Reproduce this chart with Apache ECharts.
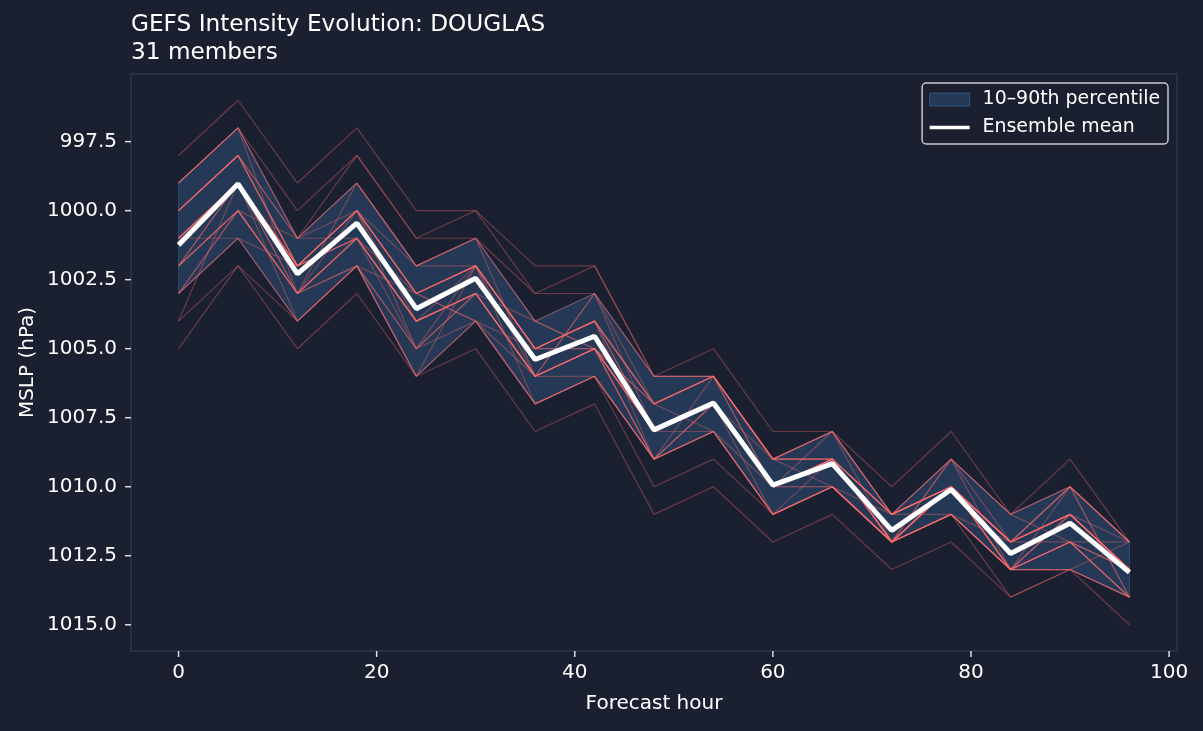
<!DOCTYPE html>
<html>
<head>
<meta charset="utf-8">
<script src="https://cdn.jsdelivr.net/npm/echarts@6/dist/echarts.min.js"></script>
<style>
  html, body { margin: 0; padding: 0; background: #1b2031; }
  #chart { width: 1203px; height: 731px; }
</style>
</head>
<body>
<div id="chart"></div>
<script>
// forecast hours
var hours = [0, 6, 12, 18, 24, 30, 36, 42, 48, 54, 60, 66, 72, 78, 84, 90, 96];

// 31 GEFS members, MSLP (hPa)
var members = [
  [998, 996, 999, 997, 1000, 1000, 1002, 1002, 1006, 1005, 1008, 1008, 1010, 1008, 1011, 1009, 1012],
  [999, 997, 1000, 998, 1001, 1000, 1003, 1002, 1006, 1006, 1009, 1008, 1012, 1009, 1011, 1012, 1012],
  [999, 997, 1001, 998, 1001, 1001, 1003, 1003, 1006, 1006, 1010, 1008, 1011, 1009, 1011, 1010, 1012],
  [999, 997, 1001, 999, 1002, 1001, 1006, 1003, 1006, 1006, 1009, 1008, 1011, 1009, 1011, 1010, 1014],
  [999, 997, 1003, 999, 1002, 1001, 1004, 1005, 1007, 1006, 1009, 1008, 1011, 1009, 1012, 1010, 1012],
  [1000, 998, 1001, 999, 1002, 1001, 1004, 1003, 1007, 1006, 1009, 1008, 1011, 1011, 1012, 1010, 1012],
  [1000, 998, 1001, 1000, 1002, 1002, 1005, 1004, 1009, 1006, 1009, 1009, 1011, 1010, 1012, 1010, 1012],
  [1000, 998, 1002, 1001, 1003, 1002, 1005, 1004, 1007, 1006, 1009, 1009, 1011, 1010, 1013, 1011, 1012],
  [1000, 998, 1002, 1000, 1005, 1002, 1005, 1004, 1007, 1006, 1009, 1009, 1011, 1010, 1012, 1011, 1013],
  [1000, 998, 1002, 1000, 1003, 1002, 1005, 1004, 1007, 1006, 1009, 1010, 1011, 1010, 1012, 1011, 1013],
  [1000, 998, 1002, 1000, 1003, 1004, 1005, 1004, 1007, 1006, 1010, 1009, 1011, 1010, 1012, 1011, 1013],
  [1001, 999, 1002, 1000, 1003, 1002, 1005, 1004, 1008, 1008, 1010, 1009, 1011, 1010, 1012, 1011, 1013],
  [1001, 999, 1002, 1000, 1003, 1002, 1005, 1004, 1008, 1007, 1009, 1009, 1011, 1010, 1012, 1011, 1013],
  [1001, 999, 1002, 1000, 1003, 1002, 1005, 1005, 1008, 1007, 1010, 1009, 1012, 1010, 1012, 1011, 1013],
  [1001, 999, 1002, 1000, 1003, 1002, 1005, 1005, 1008, 1007, 1010, 1009, 1011, 1010, 1012, 1011, 1013],
  [1001, 999, 1002, 1001, 1004, 1002, 1006, 1003, 1008, 1007, 1010, 1009, 1012, 1010, 1012, 1011, 1013],
  [1001, 1001, 1002, 1001, 1004, 1003, 1006, 1005, 1008, 1007, 1010, 1009, 1012, 1010, 1013, 1011, 1013],
  [1001, 999, 1002, 1001, 1004, 1003, 1006, 1005, 1008, 1007, 1010, 1009, 1012, 1010, 1013, 1011, 1013],
  [1002, 999, 1003, 1001, 1004, 1003, 1006, 1005, 1008, 1007, 1010, 1009, 1012, 1010, 1012, 1012, 1013],
  [1002, 999, 1003, 1000, 1004, 1003, 1006, 1005, 1008, 1007, 1010, 1009, 1012, 1010, 1013, 1012, 1013],
  [1002, 1000, 1001, 1001, 1004, 1003, 1006, 1005, 1008, 1007, 1010, 1009, 1012, 1010, 1013, 1012, 1013],
  [1002, 1000, 1003, 1001, 1004, 1003, 1006, 1005, 1009, 1007, 1010, 1010, 1012, 1010, 1013, 1012, 1014],
  [1002, 1000, 1003, 1001, 1004, 1003, 1004, 1005, 1009, 1007, 1010, 1010, 1012, 1011, 1013, 1012, 1014],
  [1002, 1000, 1003, 1001, 1005, 1003, 1006, 1005, 1009, 1008, 1011, 1010, 1012, 1011, 1013, 1010, 1014],
  [1003, 1000, 1003, 1002, 1005, 1003, 1006, 1005, 1007, 1008, 1011, 1010, 1012, 1011, 1013, 1012, 1014],
  [1003, 1000, 1003, 1002, 1003, 1004, 1006, 1006, 1009, 1008, 1011, 1010, 1012, 1011, 1013, 1012, 1014],
  [1003, 1001, 1004, 1002, 1005, 1004, 1007, 1006, 1009, 1008, 1011, 1010, 1012, 1009, 1013, 1013, 1014],
  [1003, 1001, 1004, 1002, 1006, 1004, 1007, 1006, 1009, 1007, 1011, 1009, 1012, 1011, 1013, 1013, 1014],
  [1004, 999, 1004, 1002, 1006, 1002, 1007, 1006, 1009, 1008, 1011, 1010, 1012, 1011, 1013, 1013, 1014],
  [1004, 1002, 1004, 1002, 1006, 1004, 1007, 1006, 1010, 1009, 1011, 1010, 1012, 1011, 1014, 1013, 1012],
  [1005, 1002, 1005, 1003, 1006, 1005, 1008, 1007, 1011, 1010, 1012, 1011, 1013, 1012, 1014, 1013, 1015]
];

// 10th / 90th percentile and ensemble mean
var p10 = [999, 997, 1001, 999, 1002, 1001, 1004, 1003, 1006, 1006, 1009, 1008, 1011, 1009, 1011, 1010, 1012];
var p90 = [1003, 1001, 1004, 1002, 1006, 1004, 1007, 1006, 1009, 1008, 1011, 1010, 1012, 1011, 1013, 1013, 1014];
var ensMean = [1001.24, 999.03, 1002.29, 1000.45, 1003.55, 1002.45, 1005.39, 1004.55, 1007.94, 1006.97,
               1009.94, 1009.16, 1011.58, 1010.10, 1012.42, 1011.32, 1013.10];

var xTicks = [0, 20, 40, 60, 80, 100];
var yTicks = [997.5, 1000, 1002.5, 1005, 1007.5, 1010, 1012.5, 1015];

var FONT = 'DejaVu Sans';
var BG = '#1b2031';
var FRAME = '#30364a';
var TICK = '#dddddd';
var BAND_FILL = 'rgba(74,144,217,0.22)';
var BAND_EDGE = 'rgba(74,144,217,0.3)';

// full plot area runs x -4.8..100.8, y 995.05..1015.95 (matplotlib margins)
var X_MIN = -4.8, X_MAX = 100.8, Y_MIN = 995.05, Y_MAX = 1015.95;
// the data grid spans x 0..100 and y 997.5..1015 so the labels fall on round values
var FRAME_L = 131, FRAME_R = 1177, FRAME_T = 74, FRAME_B = 651;
var TICK_LEN = 6;
var pxX = (FRAME_R - FRAME_L) / (X_MAX - X_MIN);
var pxY = (FRAME_B - FRAME_T) / (Y_MAX - Y_MIN);
var dataL = FRAME_L + (0 - X_MIN) * pxX;
var dataR = FRAME_L + (100 - X_MIN) * pxX;
var dataT = FRAME_T + (997.5 - Y_MIN) * pxY;
var dataB = FRAME_T + (1015 - Y_MIN) * pxY;

function pairs(arr) {
  return hours.map(function (h, i) { return [h, arr[i]]; });
}

var series = [];

// percentile band as one polygon through the axis scales
series.push({
  name: '10–90th percentile',
  type: 'custom',
  xAxisIndex: 1,
  yAxisIndex: 1,
  clip: false,
  silent: true,
  z: 1,
  data: hours.map(function (h, i) { return [h, p10[i], p90[i]]; }),
  encode: { x: 0, y: [1, 2] },
  renderItem: function (params, api) {
    if (params.dataIndex !== 0) return;
    var upper = hours.map(function (h, i) { return api.coord([h, p10[i]]); });
    var lower = hours.map(function (h, i) { return api.coord([h, p90[i]]); }).reverse();
    return {
      type: 'polygon',
      shape: { points: upper.concat(lower) },
      style: { fill: BAND_FILL, stroke: BAND_EDGE, lineWidth: 1 }
    };
  }
});

members.forEach(function (m, k) {
  series.push({
    name: 'member' + k,
    type: 'line',
    xAxisIndex: 1,
    yAxisIndex: 1,
    clip: false,
    data: pairs(m),
    symbol: 'none',
    silent: true,
    z: 2,
    lineStyle: { color: 'rgba(255,107,107,0.34)', width: 1.2 }
  });
});

series.push({
  name: 'Ensemble mean',
  type: 'line',
  xAxisIndex: 1,
  yAxisIndex: 1,
  clip: false,
  data: pairs(ensMean),
  symbol: 'none',
  silent: true,
  z: 5,
  lineStyle: { color: '#ffffff', width: 5 }
});

// outward tick marks on the frame; anchored on in-range points and shifted
// to the frame edge with the axis scale (api.size)
series.push({
  name: 'yTickMarks',
  type: 'custom',
  xAxisIndex: 1,
  yAxisIndex: 1,
  clip: false,
  silent: true,
  zlevel: 1,
  z: 10,
  data: yTicks.map(function (v) { return [0, v]; }),
  encode: { x: 0, y: 1 },
  renderItem: function (params, api) {
    var p = api.coord([0, api.value(1)]);
    var s = api.size([1, 1]);
    var x0 = p[0] - (0 - X_MIN) * s[0];
    return {
      type: 'line',
      shape: { x1: x0 - TICK_LEN, y1: p[1], x2: x0, y2: p[1] },
      style: { stroke: TICK, lineWidth: 1.5 }
    };
  }
});
series.push({
  name: 'xTickMarks',
  type: 'custom',
  xAxisIndex: 1,
  yAxisIndex: 1,
  clip: false,
  silent: true,
  zlevel: 1,
  z: 10,
  data: xTicks.map(function (v) { return [v, 1015]; }),
  encode: { x: 0, y: 1 },
  renderItem: function (params, api) {
    var p = api.coord([api.value(0), 1015]);
    var s = api.size([1, 1]);
    var y0 = p[1] + (Y_MAX - 1015) * s[1];
    return {
      type: 'line',
      shape: { x1: p[0], y1: y0, x2: p[0], y2: y0 + TICK_LEN },
      style: { stroke: TICK, lineWidth: 1.5 }
    };
  }
});

var nameStyle = { color: '#ffffff', fontFamily: FONT, fontSize: 20 };
var hidden = { axisLine: { show: false }, axisTick: { show: false }, axisLabel: { show: false } };

var chart = echarts.init(document.getElementById('chart'));
chart.setOption({
  backgroundColor: BG,
  animation: false,
  title: {
    text: 'GEFS Intensity Evolution: DOUGLAS\n31 members',
    left: 131,
    top: 11,
    padding: 0,
    textStyle: { color: '#ffffff', fontFamily: FONT, fontSize: 23.2, fontWeight: 'normal', lineHeight: 28 }
  },
  legend: {
    orient: 'vertical',
    right: 35,
    top: 83,
    padding: [7, 8, 7, 7],
    itemGap: 9,
    itemWidth: 40,
    itemHeight: 13,
    borderColor: '#c8c8c8',
    borderWidth: 1.5,
    borderRadius: 4,
    backgroundColor: 'rgba(27,32,49,0.8)',
    selectedMode: false,
    textStyle: { color: '#ffffff', fontFamily: FONT, fontSize: 18.9, padding: [0, 0, 0, 8] },
    data: [
      { name: '10–90th percentile', icon: 'rect',
        itemStyle: { color: BAND_FILL, borderColor: 'rgba(74,144,217,0.4)', borderWidth: 1 } },
      { name: 'Ensemble mean', icon: 'path://M0,0H43V4H0Z',
        itemStyle: { color: '#ffffff', borderWidth: 0 } }
    ]
  },
  grid: [
    // 0: frame
    { left: FRAME_L, right: 1203 - FRAME_R, top: FRAME_T, bottom: 731 - FRAME_B,
      show: true, borderColor: FRAME, borderWidth: 1.5, backgroundColor: 'transparent' },
    // 1: data
    { left: dataL, right: 1203 - dataR, top: dataT, bottom: 731 - dataB }
  ],
  xAxis: [
    Object.assign({ gridIndex: 0, type: 'value', min: 0, max: 1, splitLine: { show: false },
      name: 'Forecast hour', nameLocation: 'middle', nameGap: 43, nameTextStyle: nameStyle }, hidden),
    {
      gridIndex: 1, type: 'value', min: 0, max: 100, interval: 20,
      offset: FRAME_B - dataB,
      axisLine: { show: false, onZero: false },
      axisTick: { show: false },
      splitLine: { show: false },
      axisLabel: { margin: 12, color: '#ffffff', fontFamily: FONT, fontSize: 20, backgroundColor: 'transparent' }
    }
  ],
  yAxis: [
    Object.assign({ gridIndex: 0, type: 'value', min: 0, max: 1, splitLine: { show: false },
      name: 'MSLP (hPa)', nameLocation: 'middle', nameGap: 93, nameTextStyle: nameStyle }, hidden),
    {
      gridIndex: 1, type: 'value', inverse: true, min: 997.5, max: 1015, interval: 2.5,
      offset: dataL - FRAME_L,
      axisLine: { show: false, onZero: false },
      axisTick: { show: false },
      splitLine: { show: false },
      axisLabel: {
        margin: 14, color: '#ffffff', fontFamily: FONT, fontSize: 20, backgroundColor: 'transparent',
        formatter: function (v) { return v.toFixed(1); }
      }
    }
  ],
  series: series
});
</script>
</body>
</html>
